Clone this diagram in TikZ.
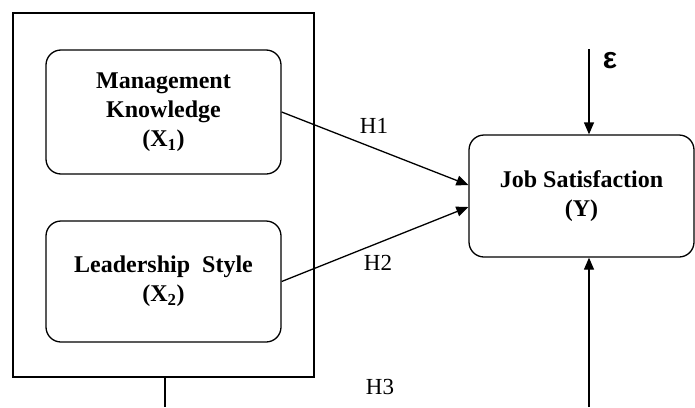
\documentclass[tikz,border=0pt]{standalone}
\usepackage{fontspec}
\setmainfont{Liberation Serif}
\newfontfamily\epsfont{Liberation Sans}
\usetikzlibrary{arrows.meta}
\tikzset{
  varbox/.style={draw, line width=1.3pt, rounded corners=15pt, align=center, inner sep=0pt,
    font=\fontsize{24}{29}\selectfont\bfseries},
  conn/.style={line width=1.3pt, -{Triangle[length=12pt,width=10pt]}},
  plain/.style={line width=1.3pt},
  hlabel/.style={font=\fontsize{23}{27}\selectfont, inner sep=0pt},
}
\begin{document}
\begin{tikzpicture}[x=1pt, y=-1pt]
\useasboundingbox (0,0) rectangle (695,407);
\node[draw, line width=1.3pt, minimum width=301pt, minimum height=364pt, inner sep=0pt] (outer) at (163.5,195) {};
\node[varbox, minimum width=235pt, minimum height=124pt] (b1) at (163.5,112) {Management\\Knowledge\\(X\textsubscript{1})};
\node[varbox, minimum width=235pt, minimum height=121pt] (b2) at (163.5,281.5) {Leadership\ \ Style\\(X\textsubscript{2})};
\node[varbox, minimum width=225pt, minimum height=122pt] (y) at (581.5,196) {Job Satisfaction\\(Y)};
\coordinate (yin1) at ([yshift=11pt]y.west);
\coordinate (yin2) at ([yshift=-11pt]y.west);
\coordinate (etop) at (589,49);
\coordinate (ybot) at (589,407);
\coordinate (ob) at (165,407);
\draw[conn] (b1.east) -- (yin1);
\draw[conn] (b2.east) -- (yin2);
\draw[conn] (etop) -- (etop |- y.north);
\draw[conn] (ybot) -- (ybot |- y.south);
\draw[plain] (outer.south -| ob) -- (ob);
\node[font=\epsfont\bfseries\fontsize{30}{30}\selectfont, inner sep=0pt] (eps) at (610,61) {ε};
\node[hlabel] (h1) at (374,125.5) {H1};
\node[hlabel] (h2) at (378,263) {H2};
\node[hlabel] (h3) at (380,386.5) {H3};
\end{tikzpicture}
\end{document}
